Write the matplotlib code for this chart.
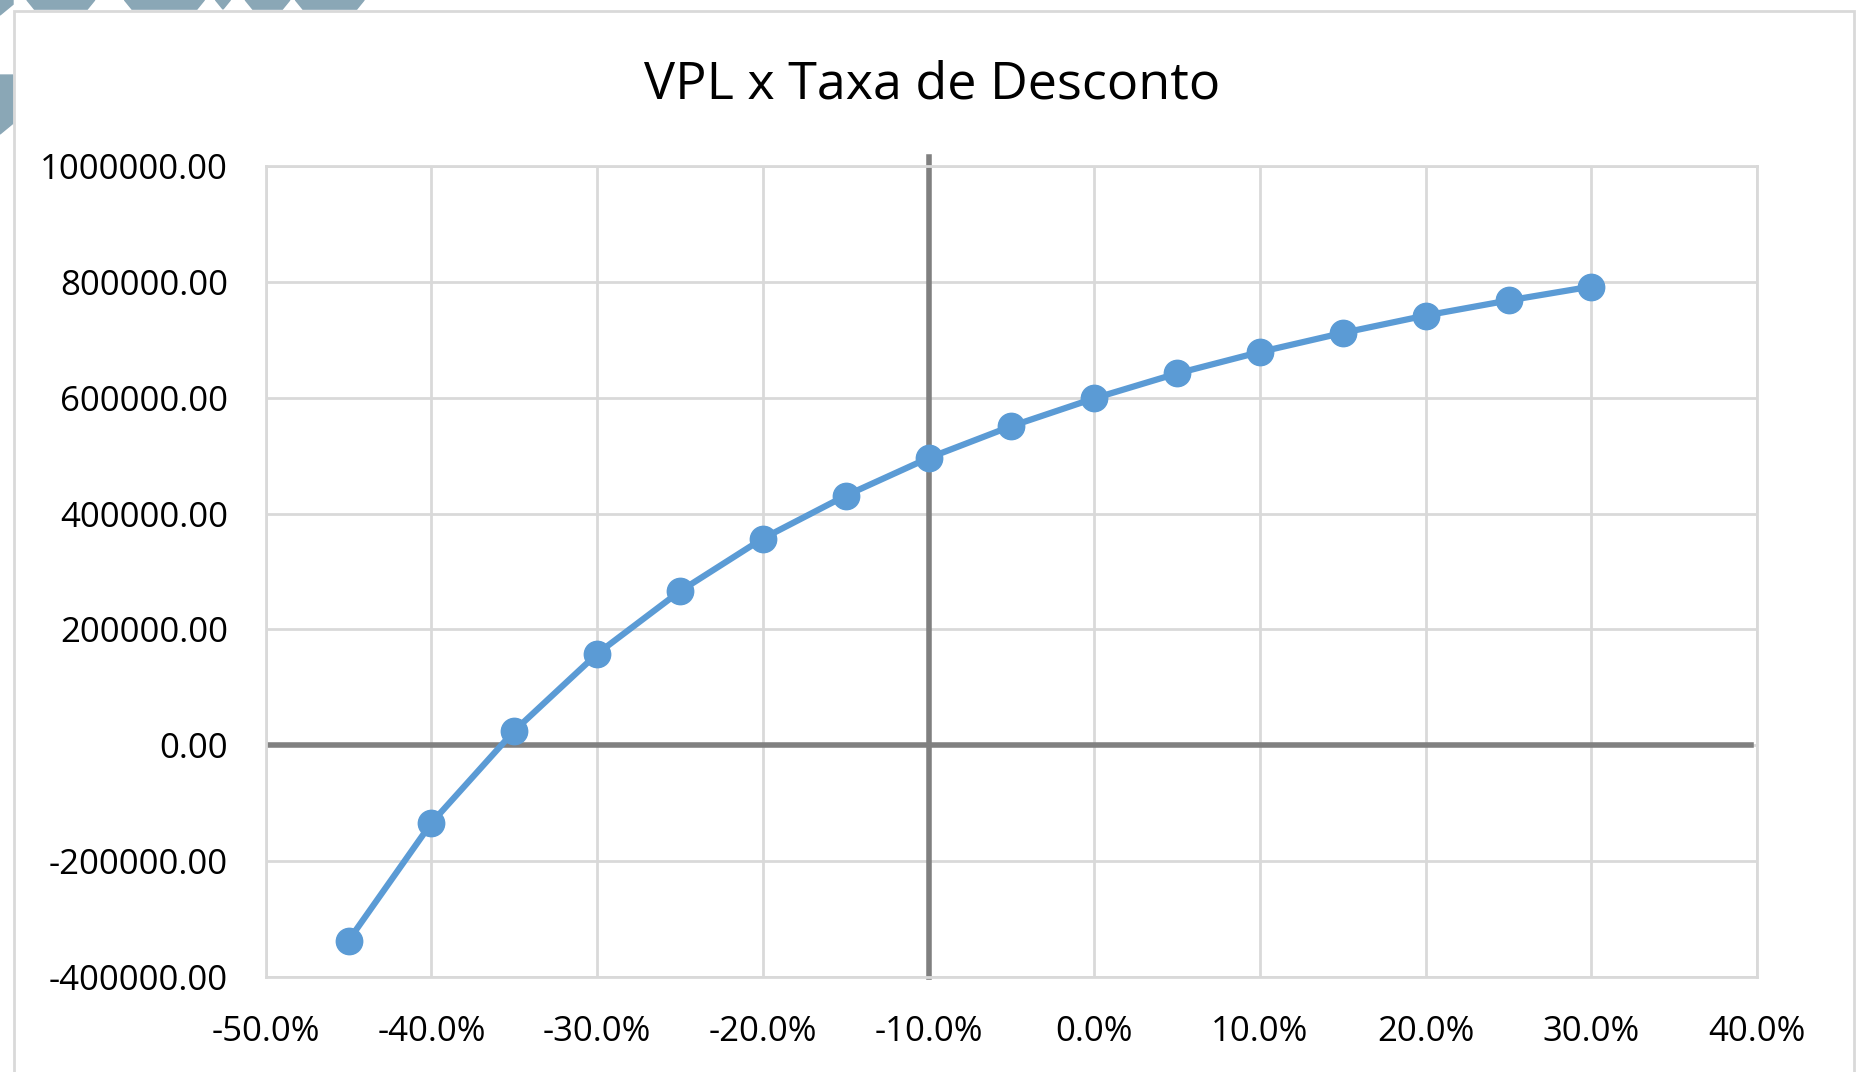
import matplotlib
matplotlib.use("Agg")
import matplotlib.pyplot as plt
from matplotlib.ticker import PercentFormatter, FormatStrFormatter, MultipleLocator
from matplotlib.patches import Rectangle, Polygon

plt.rcParams['font.family'] = ['Open Sans', 'DejaVu Sans']
plt.rcParams['axes.unicode_minus'] = False

# taxa de desconto e VPL correspondente
taxa = [-0.45, -0.40, -0.35, -0.30, -0.25, -0.20, -0.15, -0.10,
        -0.05, 0.00, 0.05, 0.10, 0.15, 0.20, 0.25, 0.30]
vpl = [-337000, -134000, 25000, 158000, 266000, 357000, 431000, 496000,
       551000, 599000, 642000, 679000, 712000, 742000, 768000, 792000]

fig = plt.figure(figsize=(18.58, 10.72), dpi=100)

# pedaco do fundo que aparece atras do grafico
bg = '#8aa7b6'
for x0, x1 in [(0.0145, 0.051), (0.067, 0.110), (0.116, 0.124),
               (0.132, 0.156), (0.159, 0.196)]:
    fig.patches.append(Polygon([(x0, 1.0), (x1, 1.0), (x1 - 0.004, 0.9915),
                                (x0 + 0.004, 0.9915)], closed=True,
                               transform=fig.transFigure, color=bg, zorder=-2))
for y0, y1 in [(0.986, 1.0), (0.875, 0.93)]:
    fig.patches.append(Polygon([(0, y0), (0.007, y0 + 0.01), (0.007, y1),
                                (0, y1)], closed=True,
                               transform=fig.transFigure, color=bg, zorder=-2))

# moldura do grafico
frame = Rectangle((0.0075, -0.01), 0.9905, 1.0, transform=fig.transFigure,
                  facecolor='white', edgecolor='#d9d9d9', linewidth=2,
                  zorder=-1)
fig.patches.append(frame)

ax = fig.add_axes([0.143, 0.0886, 0.8027, 0.7565])
ax.set_xlim(-0.5, 0.4)
ax.set_ylim(-400000, 1000000)
ax.xaxis.set_major_locator(MultipleLocator(0.1))
ax.yaxis.set_major_locator(MultipleLocator(200000))
ax.xaxis.set_major_formatter(PercentFormatter(xmax=1, decimals=1))
ax.yaxis.set_major_formatter(FormatStrFormatter('%.2f'))
ax.grid(True, color='#d9d9d9', linewidth=2)
ax.set_axisbelow(True)
for s in ax.spines.values():
    s.set_color('#d9d9d9')
    s.set_linewidth(2)
ax.tick_params(length=0, labelsize=25, pad=27)

# eixos cruzando em y=0 e x=-10%
ax.axhline(0, xmin=0, xmax=0.996, color='#808080', linewidth=4, zorder=2)
ax.axvline(-0.10, ymin=0, ymax=1.011, color='#808080', linewidth=4,
           zorder=2, clip_on=False)

ax.plot(taxa, vpl, color='#5b9bd5', linewidth=4.5, marker='o',
        markersize=19, zorder=3)

fig.text(0.5015, 0.921, 'VPL x Taxa de Desconto', fontsize=37.5,
         ha='center', va='center')

fig.savefig('out.png', dpi=100)
